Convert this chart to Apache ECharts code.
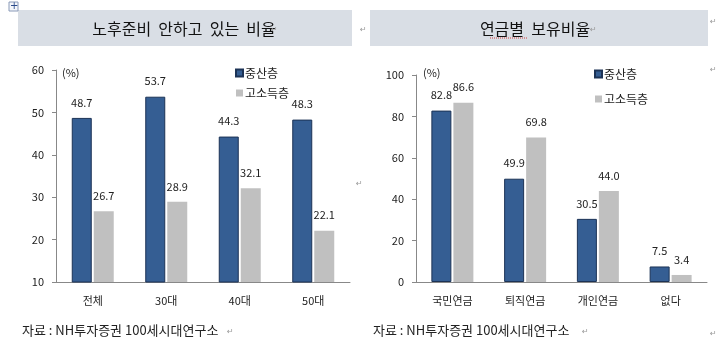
<!DOCTYPE html>
<html>
<head>
<meta charset="utf-8">
<script src="https://cdn.jsdelivr.net/npm/echarts@6/dist/echarts.min.js"></script>
<style>
  html, body { margin: 0; padding: 0; background: #fff; }
  #chart { width: 720px; height: 351px; }
</style>
</head>
<body>
<div id="chart"></div>
<script>
// 노후준비 안하고 있는 비율
const ageGroups = ["전체", "30대", "40대", "50대"];
const noPrepMiddle = [48.7, 53.7, 44.3, 48.3];
const noPrepHigh = [26.7, 28.9, 32.1, 22.1];

// 연금별 보유비율
const pensionTypes = ["국민연금", "퇴직연금", "개인연금", "없다"];
const pensionMiddle = [82.8, 49.9, 30.5, 7.5];
const pensionHigh = [86.6, 69.8, 44.0, 3.4];

const seriesNames = ["중산층", "고소득층"];
const blue = "#355e93";
const gray = "#c0c0c0";
const font = "Noto Sans CJK KR";

var myChart = echarts.init(document.getElementById("chart"));

function barSeries(name, data, idx, color, border) {
  return {
    name: name,
    type: "bar",
    xAxisIndex: idx,
    yAxisIndex: idx,
    data: data,
    barWidth: 20,
    barGap: "10%",
    itemStyle: { color: color, borderColor: border, borderWidth: border ? 1 : 0 },
    label: {
      show: true,
      position: "top",
      distance: 10,
      fontFamily: font,
      fontSize: 11,
      color: "#222",
      formatter: p => p.value.toFixed(1)
    }
  };
}

function para(x, y) {
  return { type: "text", x: x, y: y, style: { text: "↵", font: "8px DejaVu Sans", fill: "#999" } };
}

const axisStyle = { lineStyle: { color: "#888" } };
const tickText = { fontFamily: font, fontSize: 11, color: "#222" };

var option = {
  animation: false,
  textStyle: { fontFamily: font },
  grid: [
    { left: 56, top: 70, width: 294, height: 212 },
    { left: 416, top: 75, width: 291, height: 207 }
  ],
  xAxis: [0, 1].map(i => ({
    type: "category",
    gridIndex: i,
    data: i === 0 ? ageGroups : pensionTypes,
    axisLine: axisStyle,
    axisTick: { lineStyle: { color: "#888" }, length: 4 },
    axisLabel: { fontFamily: font, fontSize: 11, color: "#222", margin: 13 }
  })),
  yAxis: [
    { type: "value", gridIndex: 0, min: 10, max: 60, interval: 10,
      axisLine: { show: true, lineStyle: { color: "#888" } },
      axisTick: { show: true, length: 4, lineStyle: { color: "#888" } },
      splitLine: { show: false }, axisLabel: Object.assign({ margin: 12 }, tickText) },
    { type: "value", gridIndex: 1, min: 0, max: 100, interval: 20,
      axisLine: { show: true, lineStyle: { color: "#888" } },
      axisTick: { show: true, length: 4, lineStyle: { color: "#888" } },
      splitLine: { show: false }, axisLabel: Object.assign({ margin: 12 }, tickText) }
  ],
  legend: [
    { data: seriesNames, orient: "vertical", left: 230, top: 62, itemGap: 8,
      icon: "rect", itemWidth: 7, itemHeight: 7,
      textStyle: { fontFamily: font, fontSize: 12, color: "#222", padding: [0, 0, 0, -3] } },
    { data: seriesNames, orient: "vertical", left: 589, top: 63, itemGap: 13,
      icon: "rect", itemWidth: 7, itemHeight: 7,
      textStyle: { fontFamily: font, fontSize: 12, color: "#222", padding: [0, 0, 0, -3] } }
  ],
  series: [
    barSeries(seriesNames[0], noPrepMiddle, 0, blue, "#1c3356"),
    barSeries(seriesNames[1], noPrepHigh, 0, gray, null),
    barSeries(seriesNames[0], pensionMiddle, 1, blue, "#1c3356"),
    barSeries(seriesNames[1], pensionHigh, 1, gray, null)
  ],
  graphic: [
    { type: "rect", shape: { x: 18, y: 10, width: 334, height: 36 }, style: { fill: "#d9dee5" } },
    { type: "rect", shape: { x: 370, y: 10, width: 338, height: 36 }, style: { fill: "#d9dee5" } },
    { type: "text", x: 184, y: 29, style: { text: "노후준비  안하고  있는  비율", font: "16px Noto Sans CJK KR", fill: "#111", align: "center", verticalAlign: "middle" } },
    { type: "text", x: 535, y: 29, style: { text: "연금별  보유비율", font: "16px Noto Sans CJK KR", fill: "#111", align: "center", verticalAlign: "middle" } },
    { type: "line", shape: { x1: 490, y1: 38, x2: 528, y2: 38 }, style: { stroke: "#d04040", lineWidth: 1, lineDash: [1, 1] } },
    { type: "text", x: 62, y: 67, style: { text: "(%)", font: "11px Noto Sans CJK KR", fill: "#222" } },
    { type: "text", x: 423, y: 67, style: { text: "(%)", font: "11px Noto Sans CJK KR", fill: "#222" } },
    { type: "text", x: 22, y: 324, style: { text: "자료 : NH투자증권 100세시대연구소", font: "13px Noto Sans CJK KR", fill: "#222" } },
    { type: "text", x: 373, y: 324, style: { text: "자료 : NH투자증권 100세시대연구소", font: "13px Noto Sans CJK KR", fill: "#222" } },
    { type: "rect", shape: { x: 9, y: 2, width: 9, height: 9 }, style: { fill: "#f4f6fa", stroke: "#8a9ab8", lineWidth: 1 } },
    { type: "text", x: 10, y: 1, style: { text: "+", font: "10px DejaVu Sans", fill: "#2a4a8a" } },
    para(271, 26), para(590, 26), para(360, 26), para(710, 18),
    para(227, 328), para(582, 328), para(356, 180), para(710, 330), para(710, 66)
  ]
};

option && myChart.setOption(option);
</script>
</body>
</html>
